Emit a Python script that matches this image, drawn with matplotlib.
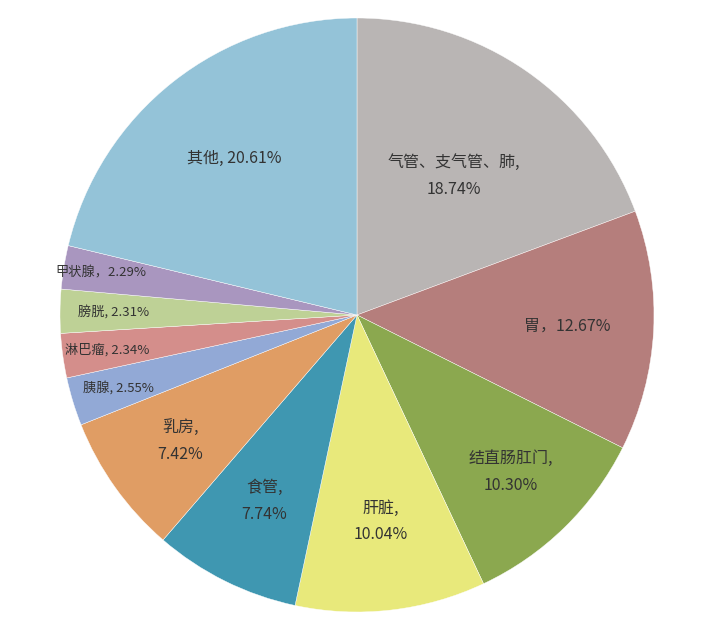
import numpy as np
import matplotlib
matplotlib.use("Agg")
import matplotlib.pyplot as plt

plt.rcParams['font.family'] = ['Noto Sans CJK SC', 'DejaVu Sans']

categories = ["气管、支气管、肺", "胃", "结直肠肛门", "肝脏", "食管", "乳房",
              "胰腺", "淋巴瘤", "膀胱", "甲状腺", "其他"]
values = [18.74, 12.67, 10.30, 10.04, 7.74, 7.42, 2.55, 2.34, 2.31, 2.29, 20.61]
label_texts = ["气管、支气管、肺,\n18.74%", "胃，12.67%", "结直肠肛门,\n10.30%",
               "肝脏,\n10.04%", "食管,\n7.74%", "乳房,\n7.42%",
               "胰腺, 2.55%", "淋巴瘤, 2.34%", "膀胱, 2.31%", "甲状腺，2.29%",
               "其他, 20.61%"]
colors = ["#B9B5B4", "#B57E7C", "#8BA84F", "#E8E97B", "#3F97B1", "#E09D64",
          "#92A9D6", "#D48E8B", "#BED196", "#A996BF", "#94C3D8"]
label_r = [0.57, 0.71, 0.74, 0.70, 0.70, 0.73, 0.84, 0.85, 0.82, 0.875, 0.67]
small = [False, False, False, False, False, False, True, True, True, True, False]

fig = plt.figure(figsize=(7.09, 6.25), dpi=100)
ax = fig.add_axes([60/709, 13/625, 594/709, 594/625])
wedges, _ = ax.pie(values, colors=colors, startangle=90, counterclock=False,
                   radius=1.0, wedgeprops=dict(edgecolor='white', linewidth=0.3))
ax.set_xlim(-1, 1)
ax.set_ylim(-1, 1)
ax.set_aspect('equal')
ax.axis('off')

for w, txt, r, sm in zip(wedges, label_texts, label_r, small):
    ang = np.deg2rad((w.theta1 + w.theta2) / 2)
    x, y = r * np.cos(ang), r * np.sin(ang)
    ax.text(x, y, txt, ha='center', va='center', fontsize=9.5 if sm else 11.5,
            color='#333333', linespacing=1.75)

fig.savefig("out.png", dpi=100, facecolor='white')
